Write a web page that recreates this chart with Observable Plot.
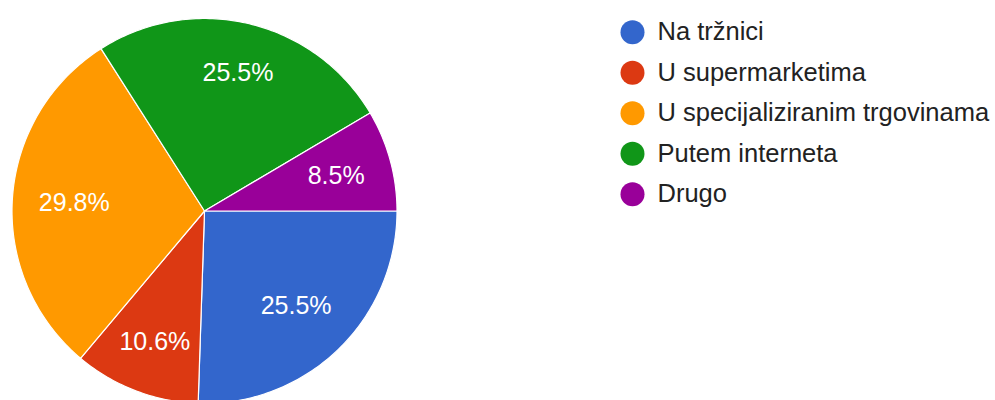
<!DOCTYPE html>
<html>
<head>
<meta charset="utf-8">
<script src="https://cdn.jsdelivr.net/npm/d3@7"></script>
<script src="https://cdn.jsdelivr.net/npm/@observablehq/plot@0.6"></script>
<style>
  html, body { margin: 0; padding: 0; background: #fff; overflow: hidden; }
  #chart svg { display: block; }
</style>
</head>
<body>
<div id="chart"></div>
<script>
const categories = ["Na tržnici", "U supermarketima", "U specijaliziranim trgovinama", "Putem interneta", "Drugo"];
const shares = [25.5, 10.6, 29.8, 25.5, 8.5];
const labels = ["25.5%", "10.6%", "29.8%", "25.5%", "8.5%"];
const colors = ["#3366cc", "#dc3912", "#ff9900", "#109618", "#990099"];

const W = 995, H = 400;
const cx = 204.5, cy = 211, R = 192.5;
// label distance from centre, per slice (layout only)
const labelDist = [131, 140, 131, 142, 136];
const legX = 632, legY = 31.7, legStep = 40.5;

const total = d3.sum(shares);
// Build sector outlines (clockwise from 3 o'clock, like Google Charts)
const sectors = [];
const labelPts = [];
let acc = 0;
shares.forEach((v, i) => {
  const a0 = acc / total * 2 * Math.PI;
  acc += v;
  const a1 = acc / total * 2 * Math.PI;
  const n = Math.max(2, Math.ceil((a1 - a0) / (Math.PI / 180)));
  for (let k = 0; k <= n; k++) {
    const a = a0 + (a1 - a0) * k / n;
    sectors.push({name: categories[i], x1: cx, y1: cy, x2: cx + R * Math.cos(a), y2: cy + R * Math.sin(a)});
  }
  const am = (a0 + a1) / 2;
  labelPts.push({name: categories[i], text: labels[i], x: cx + labelDist[i] * Math.cos(am), y: cy + labelDist[i] * Math.sin(am)});
});
const legend = categories.map((c, i) => ({name: c, x: legX, y: legY + i * legStep}));

const chart = Plot.plot({
  width: W, height: H,
  margin: 0,
  style: {fontFamily: "'Liberation Sans', Arial, sans-serif", background: "#fff", overflow: "hidden"},
  x: {domain: [0, W], axis: null},
  y: {domain: [0, H], reverse: true, axis: null},
  color: {domain: categories, range: colors},
  marks: [
    Plot.area(sectors, {x1: "x1", y1: "y1", x2: "x2", y2: "y2", z: "name", fill: "name", stroke: "#fff", strokeWidth: 1.2, curve: "linear"}),
    Plot.text(labelPts, {x: "x", y: "y", text: "text", fill: "#fff", fontSize: 25, textAnchor: "middle"}),
    Plot.dot(legend, {x: "x", y: "y", fill: "name", r: 12, stroke: null}),
    Plot.text(legend, {x: "x", y: "y", text: "name", dx: 25, textAnchor: "start", fill: "#222", fontSize: 25.5})
  ]
});
document.getElementById("chart").appendChild(chart);
</script>
</body>
</html>
